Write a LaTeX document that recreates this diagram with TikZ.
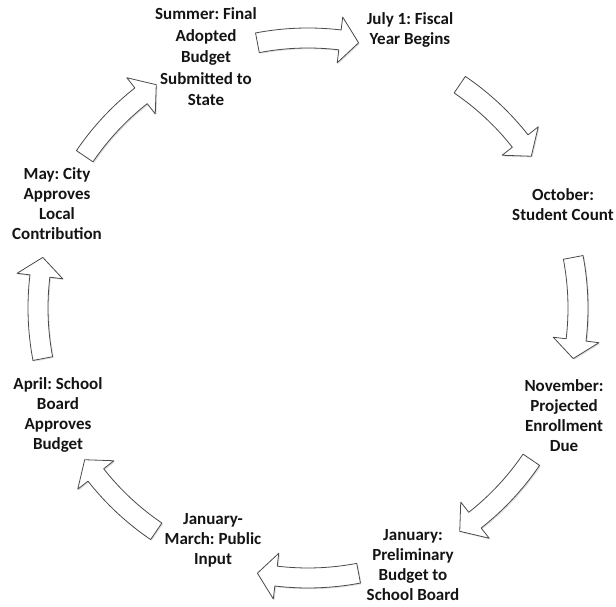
\documentclass[tikz,border=0pt]{standalone}
\usepackage{fontspec}
\setmainfont{Carlito}
\frenchspacing
\usetikzlibrary{shadows}
\definecolor{txt}{HTML}{141414}
\definecolor{edge}{HTML}{4A4A4A}
\tikzset{
  label/.style={font=\bfseries\fontsize{17}{20}\selectfont, text=txt, align=center, inner sep=0pt},
  blockarrow/.style={draw=edge, line width=0.8pt, line join=round, fill=white,
    drop shadow={opacity=0.25, shadow xshift=1.2pt, shadow yshift=-1.2pt, fill=gray}}
}
\newcommand\cyclearrow[1]{%
  \pgfmathsetmacro\ta{#1+10.8}\pgfmathsetmacro\tb{#1-6.8}\pgfmathsetmacro\tc{#1-10.8}%
  \draw[blockarrow] (\ta:260) arc[start angle=\ta,end angle=\tb,radius=260]
    -- (\tb:247) -- (\tc:270) -- (\tb:293) -- (\tb:280)
    arc[start angle=\tb,end angle=\ta,radius=280] -- cycle;}
\begin{document}
\begin{tikzpicture}[x=1pt,y=1pt]
\useasboundingbox (0,0) rectangle (616,607);
\coordinate (C) at (308,299);
\node[label, font=\bfseries\fontsize{17}{21.5}\selectfont] (summer) at (206,550) {Summer: Final\\Adopted\\Budget\\Submitted to\\State};
\node[label] (july) at (410,577.5) {July 1: Fiscal\\Year Begins};
\node[label] (october) at (563,402.5) {October:\\Student Count};
\node[label] (november) at (564,191) {November:\\Projected\\Enrollment\\Due};
\node[label] (january) at (413,42) {January:\\Preliminary\\Budget to\\School Board};
\node[label] (janmar) at (213,67) {January-\\March: Public\\Input};
\node[label] (april) at (58,192) {April: School\\Board\\Approves\\Budget};
\node[label] (may) at (57,403.5) {May: City\\Approves\\Local\\Contribution};
\begin{scope}[shift={(C)}]
  \foreach \c in {90,45,0,-45,-90,-135,180,135} {\cyclearrow{\c}}
\end{scope}
\end{tikzpicture}
\end{document}
